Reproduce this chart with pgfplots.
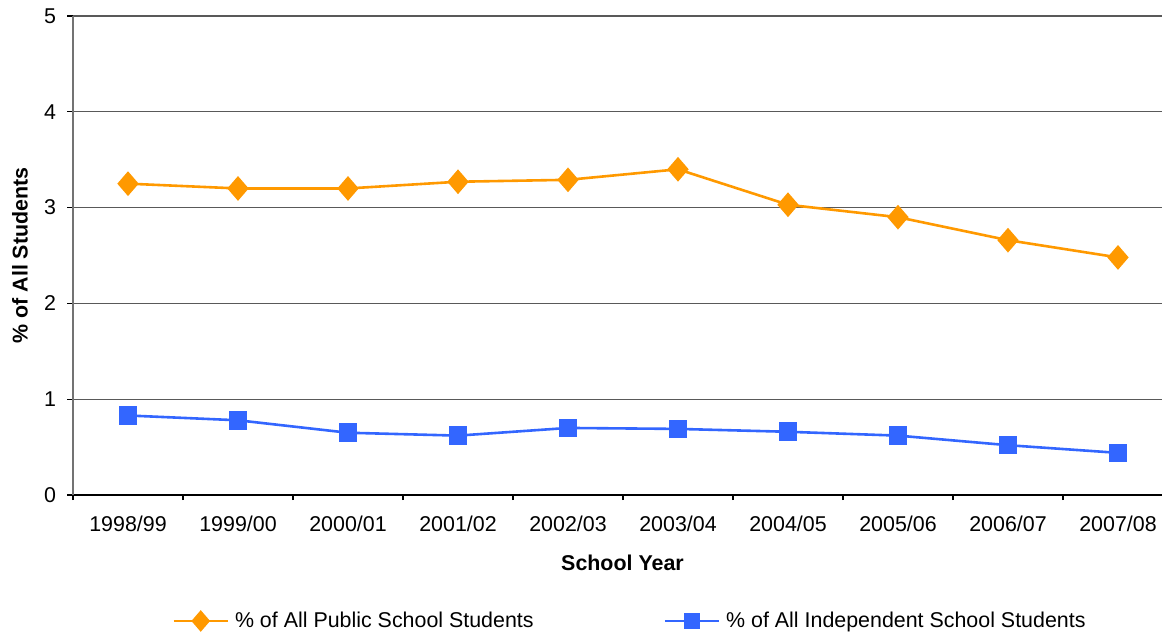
\documentclass[border=0pt]{standalone}
\usepackage{fontspec}
\setmainfont{Liberation Sans}
\usepackage{pgfplots}
\pgfplotsset{compat=1.18}
\definecolor{orangeS}{HTML}{FF9900}
\definecolor{blueS}{HTML}{3366FF}
\pgfplotstableread{
x pub ind
0 3.25 0.83
1 3.20 0.78
2 3.20 0.65
3 3.27 0.62
4 3.29 0.70
5 3.40 0.69
6 3.03 0.66
7 2.90 0.62
8 2.66 0.52
9 2.48 0.44
}\datatable
\begin{document}
\begin{tikzpicture}[font=\fontsize{10.7}{12.8}\selectfont]
\path[use as bounding box] (0,0) rectangle (581pt,317pt);
\begin{axis}[
  at={(36.5pt,69.5pt)}, anchor=south west,
  scale only axis, width=544.5pt, height=239.5pt,
  xmin=-0.5, xmax=9.4, ymin=0, ymax=5,
  axis x line*=bottom, axis y line*=left,
  x axis line style={black, line width=0.6pt},
  y axis line style={black!55, line width=0.6pt},
  xtick={0,...,9},
  xticklabels={1998/99,1999/00,2000/01,2001/02,2002/03,2003/04,2004/05,2005/06,2006/07,2007/08},
  minor xtick={-0.5,0.5,...,8.5},
  major x tick style={draw=none},
  minor x tick style={black, line width=0.6pt},
  tick align=outside,
  major tick length=3pt, minor tick length=2.5pt,
  ytick={0,...,5},
  y tick style={black, line width=0.6pt},
  ymajorgrids, grid style={black!65, line width=0.6pt},
  /pgf/number format/assume math mode=true,
  xticklabel style={yshift=-4pt},
  yticklabel style={xshift=-2pt},
  xlabel={\bfseries School Year},
  xlabel style={at={(axis description cs:0.5,0)}, anchor=center, yshift=-34pt, xshift=2.5pt},
  ylabel={\bfseries \% of All Students},
  ylabel style={at={(axis description cs:-0.0487,0.5)}, anchor=center, rotate=0},
  legend columns=2,
  legend style={at={(axis description cs:0.5133,-0.263)}, anchor=center, draw=none, fill=none,
    /tikz/every even column/.append style={column sep=62pt},
    nodes={inner xsep=3pt}},
  legend image code/.code={\draw[mark repeat=2, mark phase=2, every mark/.append style={scale=0.85}] plot coordinates {(0pt,0pt)(13.5pt,0pt)(27pt,0pt)};},
]
\addplot[color=orangeS, line width=1.3pt, mark=diamond*, mark size=5.2pt, mark options={xscale=1.15}] table[x=x,y=pub]{\datatable};
\addlegendentry{\% of All Public School Students}
\addplot[color=blueS, line width=1.3pt, mark=square*, mark size=4pt] table[x=x,y=ind]{\datatable};
\addlegendentry{\% of All Independent School Students}
\end{axis}
\end{tikzpicture}
\end{document}
